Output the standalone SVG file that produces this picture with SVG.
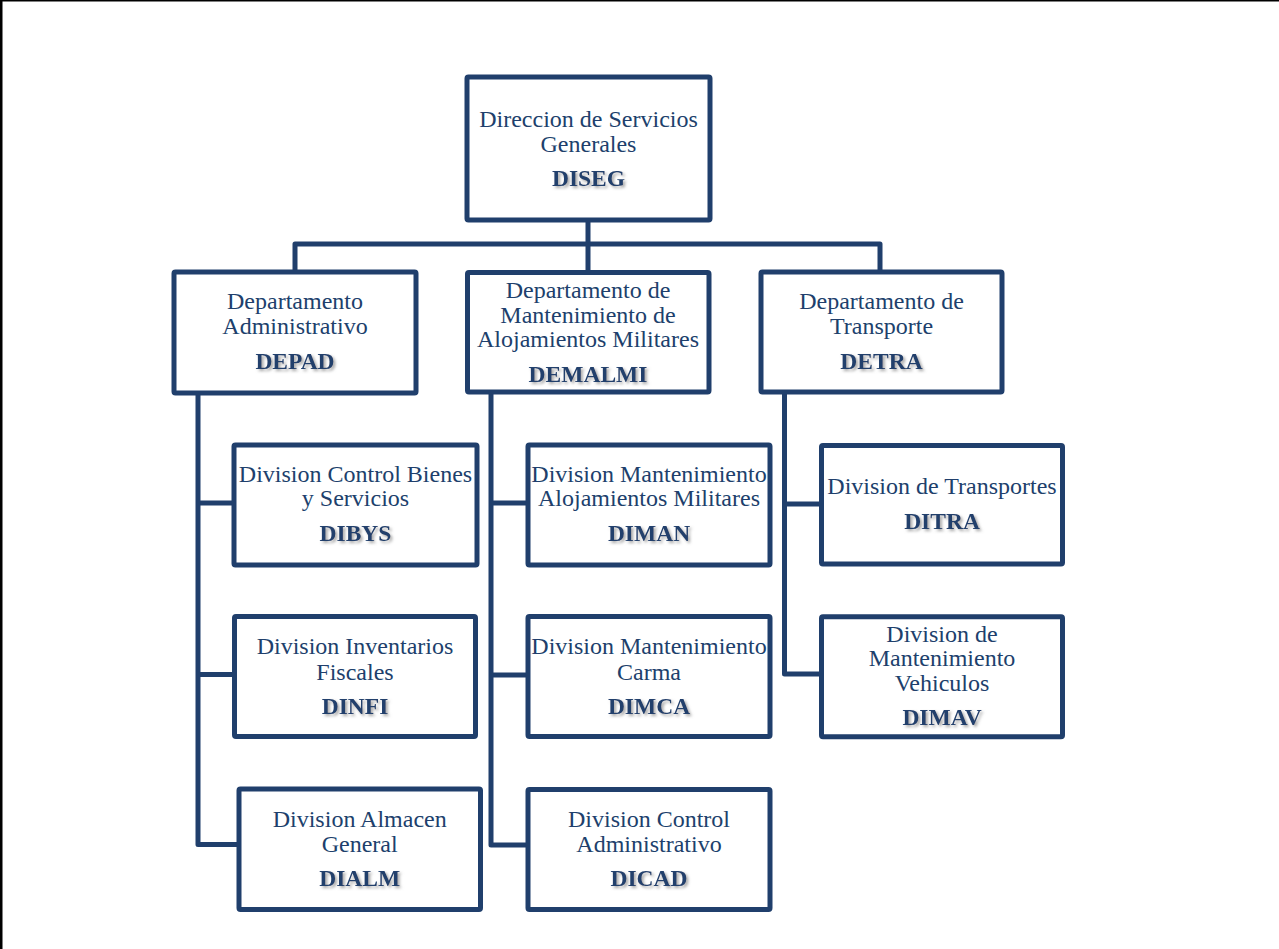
<svg xmlns="http://www.w3.org/2000/svg" width="1279" height="949" viewBox="0 0 1279 949">
<defs>
<filter id="sh" x="-10%" y="-20%" width="130%" height="160%">
<feDropShadow dx="2" dy="2" stdDeviation="1.4" flood-color="#7f7f7f" flood-opacity="0.7"/>
</filter>
<style>
.box{fill:#fff;stroke:#203f6c;stroke-width:5;stroke-linejoin:round}
.ln{fill:none;stroke:#203f6c;stroke-width:5;stroke-linejoin:round}
.t{font-family:"Liberation Serif","Times New Roman",serif;font-size:24px;fill:#203f6c;text-anchor:middle}
.b{font-family:"Liberation Serif","Times New Roman",serif;font-size:23.5px;font-weight:bold;fill:#203f6c;text-anchor:middle;filter:url(#sh)}
</style>
</defs>
<rect width="1279" height="949" fill="#fff"/>
<g id="frame">
<line x1="0" y1="0.75" x2="1279" y2="0.75" stroke="#000" stroke-width="1.5"/>
<line x1="1.25" y1="0" x2="1.25" y2="949" stroke="#000" stroke-width="2.5"/>
</g>
<g id="connectors">
<path class="ln" d="M588 220 V244 M295 272 V244 H880 V272 M588 244 V272"/>
<path class="ln" d="M198 393 V844.5 H239 M198 503 H234 M198 674.5 H234"/>
<path class="ln" d="M491 392 V845 H528 M491 503 H528 M491 675 H528"/>
<path class="ln" d="M784.5 392 V674 H821.5 M784.5 504 H821.5"/>
</g>
<g id="diseg">
<rect class="box" x="467" y="77" width="243" height="143" rx="1.5"/>
<text class="t" x="588.5" y="127">Direccion de Servicios</text>
<text class="t" x="588.5" y="152">Generales</text>
<text class="b" x="588.5" y="186">DISEG</text>
</g>
<g id="depad">
<rect class="box" x="174" y="272" width="242" height="121" rx="1.5"/>
<text class="t" x="295" y="309">Departamento</text>
<text class="t" x="295" y="334">Administrativo</text>
<text class="b" x="295" y="369">DEPAD</text>
</g>
<g id="demalmi">
<rect class="box" x="467.5" y="272.5" width="241.5" height="119.5" rx="1.5"/>
<text class="t" x="588" y="298">Departamento de</text>
<text class="t" x="588" y="323">Mantenimiento de</text>
<text class="t" x="588" y="347">Alojamientos Militares</text>
<text class="b" x="588" y="382">DEMALMI</text>
</g>
<g id="detra">
<rect class="box" x="761" y="272" width="241" height="120" rx="1.5"/>
<text class="t" x="881.5" y="309">Departamento de</text>
<text class="t" x="881.5" y="334">Transporte</text>
<text class="b" x="881.5" y="369">DETRA</text>
</g>
<g id="dibys">
<rect class="box" x="234" y="445" width="243" height="120" rx="1.5"/>
<text class="t" x="355.5" y="482">Division Control Bienes</text>
<text class="t" x="355.5" y="506">y Servicios</text>
<text class="b" x="355.5" y="541">DIBYS</text>
</g>
<g id="dinfi">
<rect class="box" x="234.5" y="616.5" width="241" height="120" rx="1.5"/>
<text class="t" x="355" y="654">Division Inventarios</text>
<text class="t" x="355" y="680">Fiscales</text>
<text class="b" x="355" y="714">DINFI</text>
</g>
<g id="dialm">
<rect class="box" x="239" y="789" width="241.5" height="120.5" rx="1.5"/>
<text class="t" x="359.7" y="827">Division Almacen</text>
<text class="t" x="359.7" y="852">General</text>
<text class="b" x="359.7" y="886">DIALM</text>
</g>
<g id="diman">
<rect class="box" x="528" y="445" width="242" height="120" rx="1.5"/>
<text class="t" x="649" y="482">Division Mantenimiento</text>
<text class="t" x="649" y="506">Alojamientos Militares</text>
<text class="b" x="649" y="541">DIMAN</text>
</g>
<g id="dimca">
<rect class="box" x="528" y="616.5" width="242" height="120" rx="1.5"/>
<text class="t" x="649" y="654">Division Mantenimiento</text>
<text class="t" x="649" y="680">Carma</text>
<text class="b" x="649" y="714">DIMCA</text>
</g>
<g id="dicad">
<rect class="box" x="528" y="789.5" width="242" height="120" rx="1.5"/>
<text class="t" x="649" y="827">Division Control</text>
<text class="t" x="649" y="852">Administrativo</text>
<text class="b" x="649" y="886">DICAD</text>
</g>
<g id="ditra">
<rect class="box" x="821.5" y="445.5" width="241" height="118.5" rx="1.5"/>
<text class="t" x="942" y="494">Division de Transportes</text>
<text class="b" x="942" y="529">DITRA</text>
</g>
<g id="dimav">
<rect class="box" x="821.5" y="616.8" width="241" height="120" rx="1.5"/>
<text class="t" x="942" y="642">Division de</text>
<text class="t" x="942" y="666">Mantenimiento</text>
<text class="t" x="942" y="691">Vehiculos</text>
<text class="b" x="942" y="725">DIMAV</text>
</g>
</svg>
